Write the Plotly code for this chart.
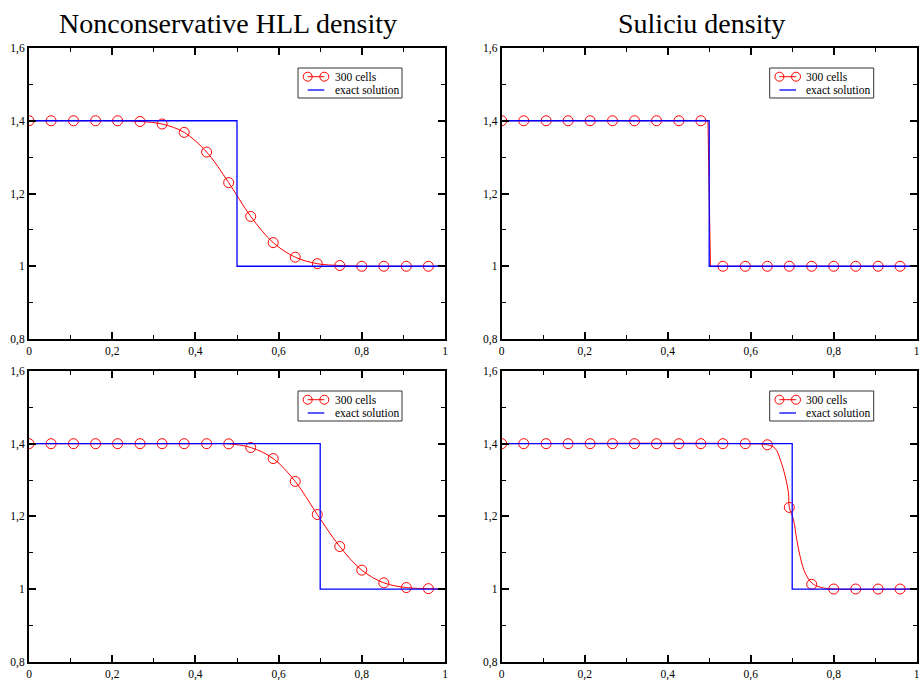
import plotly.graph_objects as go

# ---------------- data ----------------
x_markers = [0, 0.053, 0.107, 0.16, 0.213, 0.267, 0.32, 0.373, 0.427, 0.48,
             0.533, 0.587, 0.64, 0.693, 0.747, 0.8, 0.853, 0.907, 0.96]

# top-left: Nonconservative HLL, t1
hll1_markers = [1.4, 1.4, 1.4, 1.4, 1.4, 1.398, 1.391, 1.368, 1.314, 1.230,
                1.137, 1.065, 1.025, 1.007, 1.002, 1.0, 1.0, 1.0, 1.0]
hll1_line_x = x_markers + [0.997]
hll1_line_y = hll1_markers + [1.0]
exact1_x = [0, 0.5, 0.5, 1.0]
exact1_y = [1.4, 1.4, 1.0, 1.0]

# top-right: Suliciu, t1
sul1_markers = [1.4, 1.4, 1.4, 1.4, 1.4, 1.4, 1.4, 1.4, 1.4, 1.4,
                1.0, 1.0, 1.0, 1.0, 1.0, 1.0, 1.0, 1.0, 1.0]
sul1_line_x = [0, 0.497, 0.5, 0.503, 0.997]
sul1_line_y = [1.4, 1.4, 1.2, 1.0, 1.0]

# bottom-left: Nonconservative HLL, t2
hll2_markers = [1.4, 1.4, 1.4, 1.4, 1.4, 1.4, 1.4, 1.4, 1.4, 1.3995,
                1.3895, 1.359, 1.296, 1.205, 1.117, 1.052, 1.017, 1.004, 1.001]
hll2_line_x = x_markers + [0.997]
hll2_line_y = hll2_markers + [1.0]
exact2_x = [0, 0.7, 0.7, 1.0]
exact2_y = [1.4, 1.4, 1.0, 1.0]

# bottom-right: Suliciu, t2
sul2_markers = [1.4, 1.4, 1.4, 1.4, 1.4, 1.4, 1.4, 1.4, 1.4, 1.4,
                1.4, 1.4, 1.397, 1.2246, 1.013, 1.0, 1.0, 1.0, 1.0]
sul2_line_x = [0, 0.587, 0.64, 0.659, 0.671, 0.683, 0.691, 0.693, 0.703, 0.711,
               0.719, 0.728, 0.739, 0.751, 0.775, 0.8, 0.997]
sul2_line_y = [1.4, 1.4, 1.397, 1.387, 1.357, 1.311, 1.265, 1.2246, 1.191, 1.136,
               1.090, 1.053, 1.028, 1.013, 1.003, 1.0, 1.0]

titles = ["Nonconservative HLL density", "Suliciu density"]
x_tickvals = [0, 0.2, 0.4, 0.6, 0.8, 1.0]
x_ticktext = ["0", "0,2", "0,4", "0,6", "0,8", "1"]
y_tickvals = [0.8, 1.0, 1.2, 1.4, 1.6]
y_ticktext = ["0,8", "1", "1,2", "1,4", "1,6"]
series_name = "300 cells"
exact_name = "exact solution"

# ---------------- layout geometry ----------------
W, H = 921, 687
RED = "#ff0000"
BLUE = "#0000ff"
FONT = "'Liberation Serif', 'Times New Roman', 'DejaVu Serif', serif"

panels = [
    ("x", "y", (29, 445), (48, 339),
     hll1_line_x, hll1_line_y, hll1_markers, exact1_x, exact1_y, "spline"),
    ("x2", "y2", (501.7, 916.7), (48, 339),
     sul1_line_x, sul1_line_y, sul1_markers, exact1_x, exact1_y, "linear"),
    ("x3", "y3", (29, 445), (371, 661.7),
     hll2_line_x, hll2_line_y, hll2_markers, exact2_x, exact2_y, "spline"),
    ("x4", "y4", (501.7, 916.7), (371, 661.7),
     sul2_line_x, sul2_line_y, sul2_markers, exact2_x, exact2_y, "spline"),
]


def px(x):
    return x / W


def py(y):
    return 1 - y / H


fig = go.Figure()
layout = dict(
    template="none",
    width=W, height=H,
    margin=dict(l=0, r=0, t=0, b=0, autoexpand=False),
    paper_bgcolor="white", plot_bgcolor="white",
    font=dict(family=FONT, size=11, color="black"),
    showlegend=False,
)
shapes = []
annotations = []

for i, (xa, ya, xd, yd, lx, ly, mk, ex, ey, shape) in enumerate(panels):
    fig.add_trace(go.Scatter(x=lx, y=ly, mode="lines", xaxis=xa, yaxis=ya,
                             line=dict(color=RED, width=1, shape=shape),
                             name=series_name, hoverinfo="skip"))
    fig.add_trace(go.Scatter(x=x_markers, y=mk, mode="markers", xaxis=xa, yaxis=ya,
                             marker=dict(symbol="circle-open", size=10,
                                         color=RED, line=dict(color=RED, width=1)),
                             name=series_name))
    fig.add_trace(go.Scatter(x=ex, y=ey, mode="lines", xaxis=xa, yaxis=ya,
                             line=dict(color=BLUE, width=1.3), name=exact_name))

    xname = "xaxis" + xa[1:]
    yname = "yaxis" + ya[1:]
    common = dict(showgrid=False, zeroline=False, showline=True, linecolor="black",
                  linewidth=2, mirror="allticks", ticks="inside", ticklen=7,
                  tickwidth=1.5, tickcolor="black", automargin=False,
                  ticklabeloverflow="allow",
                  tickfont=dict(family=FONT, size=11.5, color="black"))
    layout[xname] = dict(common, domain=[px(xd[0]), px(xd[1])], range=[0, 1],
                         anchor=ya, tickvals=x_tickvals, ticktext=x_ticktext,
                         minor=dict(ticks="inside", ticklen=4, tickwidth=1,
                                    tickcolor="black", tickvals=[0.1, 0.3, 0.5, 0.7, 0.9]))
    layout[yname] = dict(common, domain=[py(yd[1]), py(yd[0])], range=[0.8, 1.6],
                         anchor=xa, tickvals=y_tickvals, ticktext=y_ticktext,
                         minor=dict(ticks="inside", ticklen=4, tickwidth=1,
                                    tickcolor="black", tickvals=[0.9, 1.1, 1.3, 1.5]))

    # ---- legend box (drawn like the xmgrace legend) ----
    bx0 = xd[1] - 147
    bx1 = xd[1] - 43
    by0 = yd[0] + 20
    by1 = yd[0] + 50
    shapes.append(dict(type="rect", xref="paper", yref="paper",
                       x0=px(bx0), x1=px(bx1), y0=py(by1), y1=py(by0),
                       line=dict(color="#333333", width=1), fillcolor="white", layer="above"))
    r1 = by0 + 8.7
    r2 = by0 + 22
    c1 = bx0 + 9.7
    c2 = bx0 + 26.3
    shapes.append(dict(type="line", xref="paper", yref="paper",
                       x0=px(c1), x1=px(c2), y0=py(r1), y1=py(r1),
                       line=dict(color=RED, width=1), layer="above"))
    for cx in (c1, c2):
        shapes.append(dict(type="circle", xref="paper", yref="paper",
                           x0=px(cx - 4.5), x1=px(cx + 4.5),
                           y0=py(r1 + 4.5), y1=py(r1 - 4.5),
                           line=dict(color=RED, width=1), fillcolor="rgba(0,0,0,0)",
                           layer="above"))
    shapes.append(dict(type="line", xref="paper", yref="paper",
                       x0=px(c1), x1=px(c2), y0=py(r2), y1=py(r2),
                       line=dict(color=BLUE, width=1.3), layer="above"))
    for txt, ry in ((series_name, r1), (exact_name, r2)):
        annotations.append(dict(text=txt, x=px(bx0 + 34.5), y=py(ry),
                                xref="paper", yref="paper", xanchor="left",
                                yanchor="middle", showarrow=False,
                                font=dict(family=FONT, size=11.5, color="black")))

annotations += [
    dict(text=titles[0], x=px(227.5), y=py(24), xref="paper", yref="paper",
         xanchor="center", yanchor="middle", showarrow=False,
         font=dict(family=FONT, size=28, color="black")),
    dict(text=titles[1], x=px(701), y=py(24), xref="paper", yref="paper",
         xanchor="center", yanchor="middle", showarrow=False,
         font=dict(family=FONT, size=28, color="black")),
]
layout["shapes"] = shapes
layout["annotations"] = annotations

fig.update_layout(**layout)
fig.write_html("out.html",
               config={"displayModeBar": False},
               post_script="document.body.style.margin='0';"
                           "document.body.style.overflow='hidden';")
